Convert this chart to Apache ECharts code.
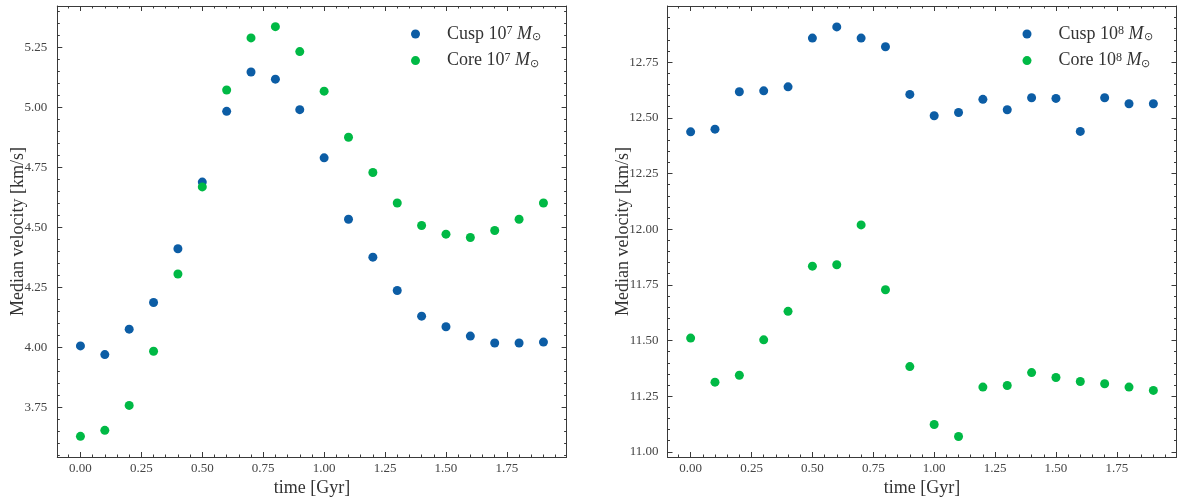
<!DOCTYPE html>
<html><head><meta charset="utf-8">
<script src="https://cdn.jsdelivr.net/npm/echarts@6/dist/echarts.min.js"></script>
<style>html,body{margin:0;padding:0;background:#fff}#c{width:1178px;height:497px}</style>
</head><body><div id="c"></div>
<script>
const times = [0.0, 0.1, 0.2, 0.3, 0.4, 0.5, 0.6, 0.7, 0.8, 0.9, 1.0, 1.1, 1.2, 1.3, 1.4, 1.5, 1.6, 1.7, 1.8, 1.9];
const cusp7 = [4.005, 3.969, 4.075, 4.186, 4.41, 4.688, 4.983, 5.147, 5.117, 4.99, 4.789, 4.533, 4.375, 4.236, 4.129, 4.085, 4.046, 4.017, 4.017, 4.021];
const core7 = [3.628, 3.653, 3.757, 3.983, 4.305, 4.668, 5.072, 5.289, 5.336, 5.232, 5.067, 4.875, 4.728, 4.601, 4.507, 4.471, 4.457, 4.486, 4.533, 4.601];
const cusp8 = [12.437, 12.449, 12.617, 12.621, 12.639, 12.858, 12.908, 12.858, 12.819, 12.605, 12.509, 12.524, 12.583, 12.536, 12.590, 12.587, 12.439, 12.590, 12.563, 12.563];
const core8 = [11.511, 11.313, 11.344, 11.503, 11.631, 11.834, 11.840, 12.019, 11.728, 11.383, 11.123, 11.069, 11.291, 11.298, 11.356, 11.334, 11.316, 11.306, 11.291, 11.276];

const xMajorTicks = [0, 0.25, 0.5, 0.75, 1.0, 1.25, 1.5, 1.75];
const yMajorTicks7 = [3.75, 4.0, 4.25, 4.5, 4.75, 5.0, 5.25];
const yMajorTicks8 = [11.0, 11.25, 11.5, 11.75, 12.0, 12.25, 12.5, 12.75];
const xRange = [-0.095, 1.995];
const yRange7 = [3.542, 5.422];
const yRange8 = [10.977, 13.002];

const seriesNames = ['Cusp 10^7 Msun', 'Core 10^7 Msun', 'Cusp 10^8 Msun', 'Core 10^8 Msun'];
const legendLabels = {
  'Cusp 10^7 Msun': '{gap|}Cusp 10{sup|7} {it|M}{sub|⊙}',
  'Core 10^7 Msun': '{gap|}Core 10{sup|7} {it|M}{sub|⊙}',
  'Cusp 10^8 Msun': '{gap|}Cusp 10{sup|8} {it|M}{sub|⊙}',
  'Core 10^8 Msun': '{gap|}Core 10{sup|8} {it|M}{sub|⊙}'
};
const BLUE = '#0C5DA5', GREEN = '#00B945';
const FONT = 'Liberation Serif';
const AXIS_COLOR = '#3a3a3a';

function minorTicks(range, step, majors) {
  const out = [];
  const start = Math.ceil(range[0] / step - 1e-9);
  const end = Math.floor(range[1] / step + 1e-9);
  for (let i = start; i <= end; i++) {
    const v = +(i * step).toFixed(4);
    if (!majors.some(m => Math.abs(m - v) < 1e-6)) out.push(v);
  }
  return out;
}

function axisSet(isX, gridIndex, range, majors, name, nameGap, labelMargin) {
  const minors = minorTicks(range, 0.05, majors);
  const posMain = isX ? 'bottom' : 'left';
  const posOpp = isX ? 'top' : 'right';
  const base = (position, ticks, len, withLine, withLabel) => ({
    type: 'value', gridIndex, min: range[0], max: range[1], position,
    splitLine: { show: false },
    axisLine: { show: withLine, onZero: false, lineStyle: { color: AXIS_COLOR, width: 1 } },
    axisTick: { show: true, inside: true, length: len, customValues: ticks, lineStyle: { color: AXIS_COLOR, width: 1 } },
    axisLabel: withLabel ? {
      show: true, customValues: majors, formatter: v => Number(v).toFixed(2),
      margin: labelMargin, fontFamily: FONT, fontSize: 13, color: '#444'
    } : { show: false },
    name: withLabel ? name : '',
    nameLocation: 'middle', nameGap: nameGap, nameMoveOverlap: false,
    nameTextStyle: { fontFamily: FONT, fontSize: 18, color: '#333' },
    z: 5
  });
  return [
    base(posMain, majors, 5, true, true),
    base(posMain, minors, 2.5, false, false),
    base(posOpp, majors, 5, true, false),
    base(posOpp, minors, 2.5, false, false)
  ];
}

const xAxes = [
  ...axisSet(true, 0, xRange, xMajorTicks, 'time [Gyr]', 22, 5),
  ...axisSet(true, 1, xRange, xMajorTicks, 'time [Gyr]', 22, 5)
];
const yAxes = [
  ...axisSet(false, 0, yRange7, yMajorTicks7, 'Median velocity [km/s]', 30, 10),
  ...axisSet(false, 1, yRange8, yMajorTicks8, 'Median velocity [km/s]', 35.5, 9)
];

function pts(ys) { return times.map((t, i) => [t, ys[i]]); }

const legendText = {
  fontFamily: FONT, fontSize: 18, color: '#333', lineHeight: 18,
  rich: {
    gap: { width: 22, lineHeight: 18 },
    sup: { fontFamily: FONT, fontSize: 12, color: '#333', verticalAlign: 'top', lineHeight: 4 },
    it: { fontFamily: FONT, fontSize: 18, fontStyle: 'italic', color: '#333', lineHeight: 18 },
    sub: { fontFamily: FONT, fontSize: 11, color: '#333', verticalAlign: 'bottom', lineHeight: 6 }
  }
};
function legendAt(left, names) {
  return {
    orient: 'vertical', left: left, top: 20, itemWidth: 9, itemHeight: 9, itemGap: 8.6,
    icon: 'circle', data: names,
    formatter: n => legendLabels[n], textStyle: legendText, selectedMode: false
  };
}

const option = {
  animation: false,
  backgroundColor: '#fff',
  grid: [
    { left: 57.3, top: 6, width: 509.3, height: 451, containLabel: false, outerBoundsMode: 'none' },
    { left: 667.5, top: 6, width: 509, height: 451, containLabel: false, outerBoundsMode: 'none' }
  ],
  xAxis: xAxes,
  yAxis: yAxes,
  legend: [legendAt(406, [seriesNames[0], seriesNames[1]]), legendAt(1017.5, [seriesNames[2], seriesNames[3]])],
  series: [
    { name: seriesNames[0], type: 'scatter', xAxisIndex: 0, yAxisIndex: 0, data: pts(cusp7), symbolSize: 9, itemStyle: { color: BLUE, opacity: 1 } },
    { name: seriesNames[1], type: 'scatter', xAxisIndex: 0, yAxisIndex: 0, data: pts(core7), symbolSize: 9, itemStyle: { color: GREEN, opacity: 1 } },
    { name: seriesNames[2], type: 'scatter', xAxisIndex: 4, yAxisIndex: 4, data: pts(cusp8), symbolSize: 9, itemStyle: { color: BLUE, opacity: 1 } },
    { name: seriesNames[3], type: 'scatter', xAxisIndex: 4, yAxisIndex: 4, data: pts(core8), symbolSize: 9, itemStyle: { color: GREEN, opacity: 1 } }
  ]
};
const chart = echarts.init(document.getElementById('c'), null, { renderer: 'canvas' });
chart.setOption(option);
</script>
</body></html>
